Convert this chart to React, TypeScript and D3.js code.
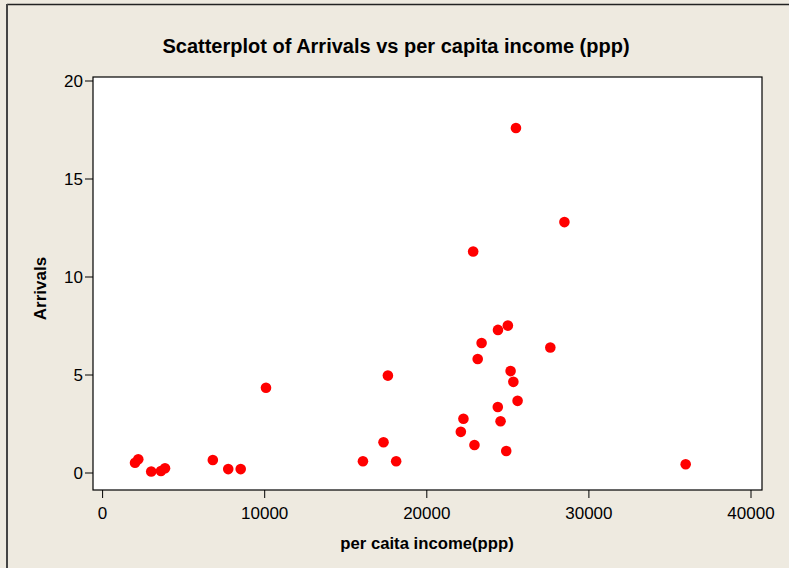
import React from "react";
import * as d3 from "d3";

const incomes = [2000, 2200, 3000, 3600, 3850, 6800, 7750, 8520, 10080, 16060, 17330, 17600, 18110, 22100, 22260, 22860, 22940, 23140, 23380, 24380, 24390, 24550, 24900, 25000, 25170, 25340, 25500, 25600, 27620, 28490, 35970];
const arrivals = [0.52, 0.7, 0.08, 0.1, 0.24, 0.66, 0.2, 0.2, 4.35, 0.6, 1.57, 4.97, 0.6, 2.1, 2.77, 11.3, 1.43, 5.82, 6.63, 3.37, 7.3, 2.64, 1.12, 7.52, 5.2, 4.65, 17.6, 3.68, 6.4, 12.8, 0.45];
const xTicks = [0, 10000, 20000, 30000, 40000];
const yTicks = [0, 5, 10, 15, 20];
const title = "Scatterplot of Arrivals vs per capita income (ppp)";
const xTitle = "per caita income(ppp)";
const yTitle = "Arrivals";

export default function App() {
  const W = 789, H = 568;
  const left = 93, right = 762, top = 77, bottom = 490;
  const x = d3.scaleLinear().domain([0, 40000]).range([102.6, 751]);
  const y = d3.scaleLinear().domain([0, 20]).range([473, 81]);
  const font = "'Liberation Sans', Arial, sans-serif";
  const pts = d3.zip(incomes, arrivals);
  return (
    <svg width={W} height={H} style={{ position: "absolute", left: 0, top: 0 }}>
      <rect x={0} y={0} width={W} height={H} fill="#EEEAE0" />
      <line x1={7} y1={4.5} x2={W} y2={4.5} stroke="#222" strokeWidth={1.5} />
      <line x1={7} y1={4} x2={7} y2={H} stroke="#444" strokeWidth={2} />
      <rect x={left} y={top} width={right - left} height={bottom - top} fill="#fff" stroke="#000" strokeWidth={1.2} />
      {yTicks.map((t) => (
        <g key={"y" + t}>
          <line x1={left - 8} x2={left} y1={y(t)} y2={y(t)} stroke="#000" strokeWidth={1} />
          <text x={left - 10} y={y(t)} dy="0.35em" textAnchor="end" fontFamily={font} fontSize={17} fill="#000">{t}</text>
        </g>
      ))}
      {xTicks.map((t) => (
        <g key={"x" + t}>
          <line x1={x(t)} x2={x(t)} y1={bottom} y2={bottom + 8} stroke="#000" strokeWidth={1} />
          <text x={x(t)} y={bottom + 23} dy="0.35em" textAnchor="middle" fontFamily={font} fontSize={17} fill="#000">{t}</text>
        </g>
      ))}
      {pts.map(([a, b], i) => (
        <circle key={i} cx={x(a)} cy={y(b)} r={5.3} fill="#FF0000" />
      ))}
      <text x={396} y={46} dy="0.35em" textAnchor="middle" fontFamily={font} fontWeight="bold" fontSize={20} fill="#000">{title}</text>
      <text x={427} y={543} dy="0.35em" textAnchor="middle" fontFamily={font} fontWeight="bold" fontSize={16.7} fill="#000">{xTitle}</text>
      <text transform={`translate(40,${(top + bottom) / 2 + 5}) rotate(-90)`} dy="0.35em" textAnchor="middle" fontFamily={font} fontWeight="bold" fontSize={17} fill="#000">{yTitle}</text>
    </svg>
  );
}
